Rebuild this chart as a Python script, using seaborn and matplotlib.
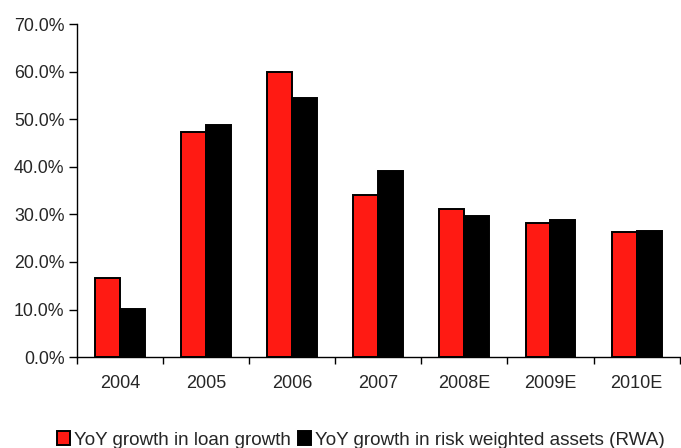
import matplotlib
matplotlib.use("Agg")
import matplotlib.pyplot as plt
import seaborn as sns
import pandas as pd
from matplotlib.ticker import PercentFormatter, FixedLocator

years = ["2004", "2005", "2006", "2007", "2008E", "2009E", "2010E"]
loan_growth = [16.6, 47.3, 60.0, 34.0, 31.2, 28.2, 26.2]
rwa_growth = [10.1, 48.9, 54.5, 39.1, 29.7, 28.8, 26.5]
series_names = ["YoY growth in loan growth", "YoY growth in risk weighted assets (RWA)"]

df = pd.DataFrame({
    "year": years * 2,
    "value": loan_growth + rwa_growth,
    "series": [series_names[0]] * len(years) + [series_names[1]] * len(years),
})

sns.set_style("white")
plt.rcParams["font.family"] = ["Liberation Sans", "DejaVu Sans"]

fig = plt.figure(figsize=(6.81, 4.48), dpi=100)
ax = fig.add_axes([0.113, 0.203, 0.885, 0.743])

sns.barplot(data=df, x="year", y="value", hue="series", order=years,
            hue_order=series_names, palette=["#FF1A13", "#000000"],
            saturation=1, width=0.58, edgecolor="black", linewidth=1.4,
            ax=ax, legend=True)

ax.set_xlim(-0.5, len(years) - 0.5)
ax.set_ylim(0, 70)
ax.set_yticks(range(0, 71, 10))
ax.yaxis.set_major_formatter(PercentFormatter(decimals=1))
ax.set_xlabel("")
ax.set_ylabel("")

for s in ["top", "right"]:
    ax.spines[s].set_visible(False)
for s in ["left", "bottom"]:
    ax.spines[s].set_color("black")
    ax.spines[s].set_linewidth(1.0)

ax.tick_params(axis="x", which="major", length=0, labelsize=13, pad=13)
ax.xaxis.set_minor_locator(FixedLocator([i - 0.5 for i in range(len(years) + 1)]))
ax.tick_params(axis="x", which="minor", length=5, width=1, color="black", direction="out", bottom=True)
ax.tick_params(axis="y", length=6, width=1, color="black", direction="out", left=True, labelsize=12.8, pad=3)

handles, labels = ax.get_legend_handles_labels()
ax.get_legend().remove()
fig.legend(handles, labels, loc="center", bbox_to_anchor=(0.53, 0.018), ncol=2,
           frameon=False, fontsize=13.6, handlelength=0.7, handleheight=0.7,
           handletextpad=0.2, columnspacing=0.4)

fig.savefig("out.png", dpi=100)
